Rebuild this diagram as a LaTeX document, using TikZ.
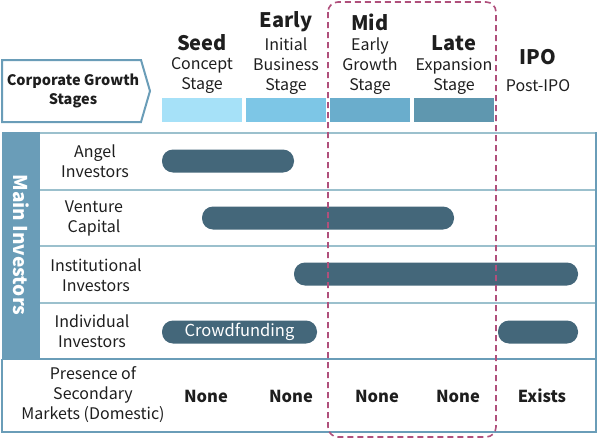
\documentclass[tikz,border=0pt]{standalone}
\usepackage{fontspec}
\setmainfont{Noto Sans CJK JP}
\definecolor{txt}{HTML}{1E1E1E}
\definecolor{seedc}{HTML}{A6E1F8}
\definecolor{earlyc}{HTML}{7DC6E6}
\definecolor{midc}{HTML}{6AADCC}
\definecolor{latec}{HTML}{5F97AF}
\definecolor{bandc}{HTML}{6A9DB8}
\definecolor{barc}{HTML}{44677A}
\definecolor{linec}{HTML}{9BC0CD}
\definecolor{dashc}{HTML}{B0507C}
\tikzset{
  px/.style={x=1pt,y=-1pt},
  title/.style={font=\fontsize{20}{22}\selectfont\bfseries, text=txt, inner sep=0},
  sub/.style={font=\fontsize{16}{20}\selectfont, text=txt, align=center, inner sep=0},
  lab/.style={font=\fontsize{16}{20}\selectfont, text=txt, align=center, inner sep=0},
  val/.style={font=\fontsize{16.5}{20}\selectfont\bfseries, text=txt, inner sep=0},
  stagebar/.style={minimum width=80pt, minimum height=24pt, inner sep=0, anchor=north west},
  invbar/.style={fill=barc, rounded corners=11pt, minimum height=23pt, inner sep=0},
  grid/.style={draw=linec, line width=2pt},
}
\begin{document}
\begin{tikzpicture}[px]
\useasboundingbox (0,0) rectangle (598,439);
% pentagon
\draw[draw=bandc, line width=2pt, fill=white] (2,60) -- (141,60) -- (150,91) -- (141,122) -- (2,122) -- cycle;
\node[font=\fontsize{14.5}{19}\selectfont\bfseries, text=txt, align=center, inner sep=0] (cgs) at (73,91) {Corporate Growth\\Stages};
% stage bars
\node[stagebar, fill=seedc] (sb1) at (162,98) {};
\node[stagebar, fill=earlyc] (sb2) at (246,98) {};
\node[stagebar, fill=midc] (sb3) at (330,98) {};
\node[stagebar, fill=latec] (sb4) at (414,98) {};
% headers
\node[title] (h1) at (202,43) {Seed};
\node[sub] (s1) at (202,76) {Concept\\Stage};
\node[title] (h2) at (286,22) {Early};
\node[sub] (s2) at (286,66) {Initial\\Business\\Stage};
\node[title] (h3) at (370,22) {Mid};
\node[sub] (s3) at (370,66) {Early\\Growth\\Stage};
\node[title] (h4) at (454,43) {Late};
\node[sub] (s4) at (454,76) {Expansion\\Stage};
\node[title] (h5) at (538,57) {IPO};
\node[sub] (s5) at (538,86) {Post-IPO};
% table
\fill[bandc] (2,132) rectangle (40,359);
\node[rotate=-90, font=\fontsize{19}{20}\selectfont\bfseries, text=white, inner sep=0] (mi) at (21,245) {Main Investors};
\draw[grid] (40,190) -- (596,190);
\draw[grid] (40,246) -- (596,246);
\draw[grid] (40,303) -- (596,303);
\draw[grid] (40,133) -- (596,133);
\draw[draw=bandc, line width=2pt] (2,359) -- (596,359);
\draw[draw=bandc, line width=2pt] (596,132) -- (596,432) -- (2,432) -- (2,359);
% row labels
\node[lab] (r1) at (95,161) {Angel\\Investors};
\node[lab] (r2) at (94,218) {Venture\\Capital};
\node[lab] (r3) at (96,275) {Institutional\\Investors};
\node[lab] (r4) at (92,331) {Individual\\Investors};
% bars
\node[invbar, minimum width=132pt] (b1) at (228,161) {};
\node[invbar, minimum width=252pt] (b2) at (328,218) {};
\node[invbar, minimum width=284pt] (b3) at (436,274) {};
\node[invbar, minimum width=155pt, font=\fontsize{16.5}{18}\selectfont, text=white] (b4) at (239.5,332) {Crowdfunding};
\node[invbar, minimum width=80pt] (b5) at (538,332) {};
% bottom row
\node[lab] (r5) at (93,395) {Presence of\\Secondary\\Markets (Domestic)};
\node[val] (v1) at (206,396) {None};
\node[val] (v2) at (291,396) {None};
\node[val] (v3) at (377,396) {None};
\node[val] (v4) at (458,396) {None};
\node[val] (v5) at (542,396) {Exists};
% dashed frame
\draw[draw=dashc, line width=1.6pt, dash pattern=on 6pt off 4pt, rounded corners=10pt] (328,2) rectangle (496,437);
\end{tikzpicture}
\end{document}
